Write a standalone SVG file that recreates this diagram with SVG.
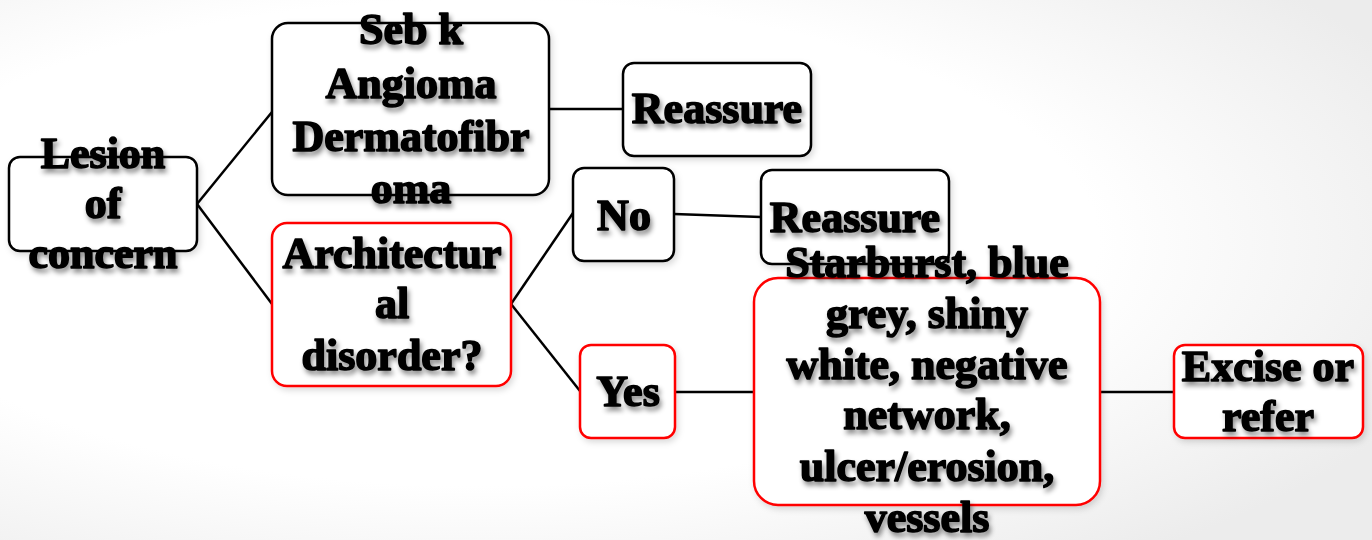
<svg xmlns="http://www.w3.org/2000/svg" width="1372" height="540" viewBox="0 0 1372 540">
<style>
.box{fill:#fff;stroke:#000;stroke-width:2.5}
.red{stroke:#f00}
.t{font-family:"Liberation Serif","DejaVu Serif",serif;font-weight:bold;font-size:44px;fill:#000;stroke:#000;stroke-width:1.6;stroke-linejoin:round;text-anchor:middle;filter:url(#ts)}
.c{stroke:#000;stroke-width:2.5;fill:none}
</style>
<defs>
<radialGradient id="bg" cx="0.35" cy="0.45" r="0.75">
<stop offset="0.6" stop-color="#ffffff"/>
<stop offset="1" stop-color="#ececec"/>
</radialGradient>
<filter id="ts" x="-10%" y="-30%" width="130%" height="170%">
<feDropShadow dx="2" dy="4" stdDeviation="2.5" flood-color="#000" flood-opacity="0.45"/>
</filter>
<filter id="bs" x="-10%" y="-10%" width="130%" height="130%">
<feDropShadow dx="2" dy="3" stdDeviation="3" flood-color="#000" flood-opacity="0.15"/>
</filter>
</defs>
<rect width="1372" height="540" fill="url(#bg)"/>
<g id="connectors">
<line class="c" x1="197" y1="204" x2="272" y2="112"/>
<line class="c" x1="197" y1="204" x2="272" y2="304"/>
<line class="c" x1="549" y1="109" x2="623" y2="109"/>
<line class="c" x1="511" y1="304" x2="573" y2="213"/>
<line class="c" x1="511" y1="304" x2="580" y2="391"/>
<line class="c" x1="674" y1="214" x2="761" y2="217"/>
<line class="c" x1="675" y1="392" x2="754" y2="392"/>
<line class="c" x1="1100" y1="392" x2="1174" y2="392"/>
</g>
<g id="lesion">
<rect class="box" x="9" y="157" width="188" height="94" rx="11" filter="url(#bs)"/>
<text class="t" x="103" y="168">Lesion</text>
<text class="t" x="103" y="218">of</text>
<text class="t" x="103" y="268">concern</text>
</g>
<g id="sebk">
<rect class="box" x="272" y="23" width="277" height="172" rx="16" filter="url(#bs)"/>
<text class="t" x="411" y="44">Seb k</text>
<text class="t" x="411" y="98">Angioma</text>
<text class="t" x="411" y="151">Dermatofibr</text>
<text class="t" x="411" y="203">oma</text>
</g>
<g id="reassure1">
<rect class="box" x="623" y="63" width="188" height="93" rx="11" filter="url(#bs)"/>
<text class="t" x="717" y="123">Reassure</text>
</g>
<g id="arch">
<rect class="box red" x="272" y="223" width="239" height="163" rx="15" filter="url(#bs)"/>
<text class="t" x="392" y="268">Architectur</text>
<text class="t" x="392" y="318">al</text>
<text class="t" x="392" y="370">disorder?</text>
</g>
<g id="no">
<rect class="box" x="573" y="168" width="101" height="93" rx="11" filter="url(#bs)"/>
<text class="t" x="624" y="230">No</text>
</g>
<g id="reassure2">
<rect class="box" x="761" y="170" width="188" height="94" rx="11" filter="url(#bs)"/>
<text class="t" x="855" y="232">Reassure</text>
</g>
<g id="yes">
<rect class="box red" x="580" y="345" width="95" height="93" rx="11" filter="url(#bs)"/>
<text class="t" x="628" y="406">Yes</text>
</g>
<g id="features">
<rect class="box red" x="754" y="278" width="346" height="227" rx="24" filter="url(#bs)"/>
<text class="t" x="927" y="277">Starburst, blue</text>
<text class="t" x="927" y="328">grey, shiny</text>
<text class="t" x="927" y="379">white, negative</text>
<text class="t" x="927" y="429">network,</text>
<text class="t" x="927" y="481">ulcer/erosion,</text>
<text class="t" x="927" y="532">vessels</text>
</g>
<g id="excise">
<rect class="box red" x="1174" y="345" width="189" height="93" rx="11" filter="url(#bs)"/>
<text class="t" x="1268" y="381">Excise or</text>
<text class="t" x="1268" y="431">refer</text>
</g>
</svg>
